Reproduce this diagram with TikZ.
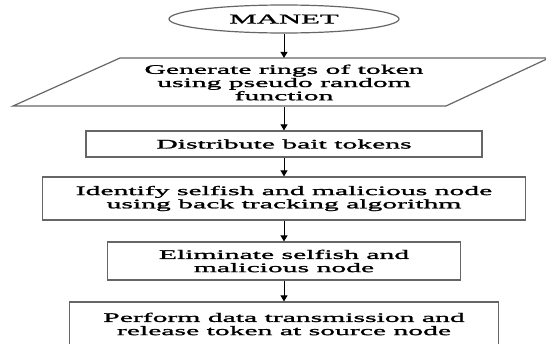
\documentclass[tikz,border=0pt]{standalone}
\usepackage{fontspec}
\setmainfont{Liberation Serif}[FakeStretch=2.28,FakeBold=1.6]
\usetikzlibrary{arrows.meta,shapes.geometric}
\begin{document}
\begin{tikzpicture}[x=1pt,y=-1pt,
  outline/.style={draw=black!60,line width=1.2pt},
  stepbox/.style={outline,rectangle,inner sep=0pt,align=center,
    font=\fontsize{13}{13.2}\selectfont},
  flow/.style={draw=black,line width=0.9pt,-{Triangle[length=6pt,width=7pt]}}]
  \useasboundingbox (0,0) rectangle (546,343);
  % start terminal
  \node[outline,ellipse,minimum width=230pt,minimum height=28pt,inner sep=0pt,
        font=\fontsize{13.5}{13.2}\selectfont] (manet) at (284,19) {MANET};
  % input/output step drawn as a parallelogram around a borderless node
  \draw[outline] (120,58) -- (549,58) -- (446,106) -- (13,106) -- cycle;
  \node[stepbox,draw=none,minimum height=48pt,minimum width=300pt] (gen) at (284,82.5)
    {Generate rings of token\\using pseudo random\\function};
  % process steps
  \node[stepbox,minimum width=396pt,minimum height=26pt] (dist) at (284,144)
    {Distribute bait tokens};
  \node[stepbox,minimum width=483pt,minimum height=43pt] (ident) at (284,198.5)
    {Identify selfish and malicious node\\using back tracking algorithm};
  \node[stepbox,minimum width=353pt,minimum height=38pt] (elim) at (284,261)
    {Eliminate selfish and\\malicious node};
  \node[stepbox,minimum width=429pt,minimum height=44pt] (perf) at (284,324)
    {Perform data transmission and\\release token at source node};
  % connectors
  \draw[flow] (manet) -- (gen);
  \draw[flow] (gen) -- (dist);
  \draw[flow] (dist) -- (ident);
  \draw[flow] (ident) -- (elim);
  \draw[flow] (elim) -- (perf);
\end{tikzpicture}
\end{document}
